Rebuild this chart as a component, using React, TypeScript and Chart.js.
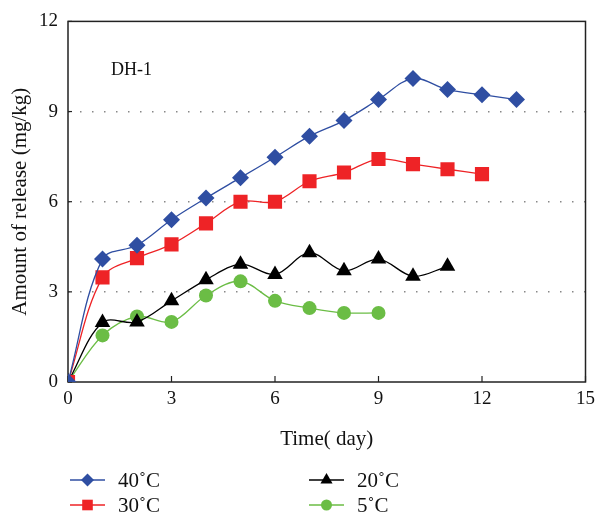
import React, { useEffect, useRef } from "react";
import { Chart, registerables } from "chart.js";

Chart.register(...registerables);

const days = [0, 1, 2, 3, 4, 5, 6, 7, 8, 9, 10, 11, 12, 13];
const t40 = [0, 4.09, 4.55, 5.4, 6.12, 6.8, 7.48, 8.18, 8.7, 9.4, 10.1, 9.73, 9.56, 9.4];
const t30 = [0, 3.48, 4.12, 4.58, 5.28, 6.0, 6.0, 6.68, 6.97, 7.42, 7.25, 7.08, 6.92];
const t20 = [0, 1.98, 2.0, 2.7, 3.4, 3.92, 3.58, 4.3, 3.7, 4.09, 3.52, 3.85];
const t5 = [0, 1.55, 2.18, 2.0, 2.88, 3.35, 2.7, 2.46, 2.3, 2.3];
const seriesNames = ["40\u02daC", "30\u02daC", "20\u02daC", "5\u02daC"];
const yTicks = [0, 3, 6, 9, 12];
const xTicks = [0, 3, 6, 9, 12, 15];

const FONT = "'Liberation Serif', 'DejaVu Serif', serif";

const BLUE = "#2F4EA2";
const RED = "#EE2326";
const BLACK = "#000000";
const GREEN = "#6BBD45";

const styles = [
  { color: BLUE, style: "rectRot", radius: 8.5, legendRadius: 6.5 },
  { color: RED, style: "rect", radius: 10, legendRadius: 7.5 },
  { color: BLACK, style: "triangle", radius: 9, legendRadius: 7 },
  { color: GREEN, style: "circle", radius: 7, legendRadius: 5.5 },
];

function pts(vals: number[]) {
  return vals.map((v, i) => ({ x: days[i], y: v }));
}

function drawMarker(ctx: CanvasRenderingContext2D, style: string, r: number, x: number, y: number, color: string) {
  ctx.save();
  ctx.fillStyle = color;
  ctx.beginPath();
  if (style === "rectRot") {
    ctx.moveTo(x, y - r);
    ctx.lineTo(x + r, y);
    ctx.lineTo(x, y + r);
    ctx.lineTo(x - r, y);
    ctx.closePath();
  } else if (style === "rect") {
    const s = r * Math.SQRT1_2;
    ctx.rect(x - s, y - s, 2 * s, 2 * s);
  } else if (style === "triangle") {
    const a = (2 * Math.PI) / 3;
    ctx.moveTo(x, y - r);
    ctx.lineTo(x + Math.sin(a) * r, y - Math.cos(a) * r);
    ctx.lineTo(x + Math.sin(2 * a) * r, y - Math.cos(2 * a) * r);
    ctx.closePath();
  } else {
    ctx.arc(x, y, r, 0, Math.PI * 2);
  }
  ctx.fill();
  ctx.restore();
}

const framePlugin = {
  id: "frame",
  beforeDatasetsDraw(chart: any) {
    const { ctx, chartArea: a, scales } = chart;
    ctx.save();
    ctx.strokeStyle = "#222";
    ctx.lineWidth = 1.5;
    ctx.strokeRect(a.left, a.top, a.right - a.left, a.bottom - a.top);
    ctx.lineWidth = 1.2;
    xTicks.forEach((t) => {
      const x = scales.x.getPixelForValue(t);
      ctx.beginPath();
      ctx.moveTo(x, a.bottom);
      ctx.lineTo(x, a.bottom - 6);
      ctx.stroke();
    });
    yTicks.forEach((t) => {
      const y = scales.y.getPixelForValue(t);
      ctx.beginPath();
      ctx.moveTo(a.left, y);
      ctx.lineTo(a.left + 4, y);
      ctx.stroke();
    });
    ctx.fillStyle = "#111";
    ctx.font = "18px " + FONT;
    ctx.textAlign = "left";
    ctx.textBaseline = "middle";
    ctx.fillText("DH-1", 111, 70);
    ctx.restore();
  },
  afterDraw(chart: any) {
    const { ctx } = chart;
    const items = [
      { i: 0, x: 70, y: 480 },
      { i: 1, x: 70, y: 505 },
      { i: 2, x: 309, y: 480 },
      { i: 3, x: 309, y: 505 },
    ];
    ctx.save();
    items.forEach(({ i, x, y }) => {
      const s = styles[i];
      ctx.strokeStyle = s.color;
      ctx.lineWidth = 1.3;
      ctx.beginPath();
      ctx.moveTo(x, y);
      ctx.lineTo(x + 35, y);
      ctx.stroke();
      drawMarker(ctx, s.style, s.legendRadius, x + 17.5, y, s.color);
      ctx.fillStyle = "#111";
      ctx.font = "21px " + FONT;
      ctx.textAlign = "left";
      ctx.textBaseline = "middle";
      ctx.fillText(seriesNames[i], x + 48, y + 1);
    });
    ctx.restore();
  },
};

export default function App() {
  const ref = useRef<HTMLCanvasElement | null>(null);
  useEffect(() => {
    if (!ref.current) return;
    const data = [t40, t30, t20, t5];
    const chart = new Chart(ref.current, {
      type: "line",
      data: {
        datasets: data.map((vals, i) => ({
          label: seriesNames[i],
          data: pts(vals),
          borderColor: styles[i].color,
          backgroundColor: styles[i].color,
          pointBackgroundColor: styles[i].color,
          pointBorderWidth: 0,
          pointStyle: styles[i].style as any,
          pointRadius: styles[i].radius,
          borderWidth: 1.3,
          tension: 0.35,
          fill: false,
        })),
      },
      options: {
        animation: false,
        responsive: false,
        maintainAspectRatio: false,
        layout: { padding: { left: 0, right: 13, top: 18, bottom: 66 } },
        plugins: {
          legend: { display: false },
          tooltip: { enabled: false },
        },
        scales: {
          x: {
            type: "linear",
            min: 0,
            max: 15,
            afterFit: (s: any) => {
              s.height = 70;
            },
            afterBuildTicks: (s: any) => {
              s.ticks = xTicks.map((v) => ({ value: v }));
            },
            grid: { display: false, drawTicks: false },
            border: { display: false },
            ticks: {
              color: "#111",
              font: { family: FONT, size: 19 },
              padding: 6,
              maxRotation: 0,
            },
            title: {
              display: true,
              text: "Time( day)",
              color: "#111",
              font: { family: FONT, size: 21 },
              padding: { top: 6, bottom: 0 },
            },
          },
          y: {
            min: 0,
            max: 12,
            afterFit: (s: any) => {
              s.width = 68;
            },
            afterBuildTicks: (s: any) => {
              s.ticks = yTicks.map((v) => ({ value: v }));
            },
            grid: {
              drawTicks: false,
              color: (c: any) =>
                c.tick && (c.tick.value === 0 || c.tick.value === 12)
                  ? "rgba(0,0,0,0)"
                  : "#888",
              lineWidth: 1.5,
            },
            border: { display: false, dash: [1.5, 10.5] },
            ticks: {
              color: "#111",
              font: { family: FONT, size: 19 },
              padding: 10,
            },
            title: {
              display: true,
              text: "Amount of release (mg/kg)",
              color: "#111",
              font: { family: FONT, size: 21 },
              padding: { top: 8, bottom: 0 },
            },
          },
        },
      },
      plugins: [framePlugin],
    });
    return () => chart.destroy();
  }, []);
  return (
    <div style={{ position: "fixed", left: 0, top: 0, width: 601, height: 518, background: "#fff" }}>
      <canvas ref={ref} width={601} height={518} style={{ width: 601, height: 518 }} />
    </div>
  );
}
